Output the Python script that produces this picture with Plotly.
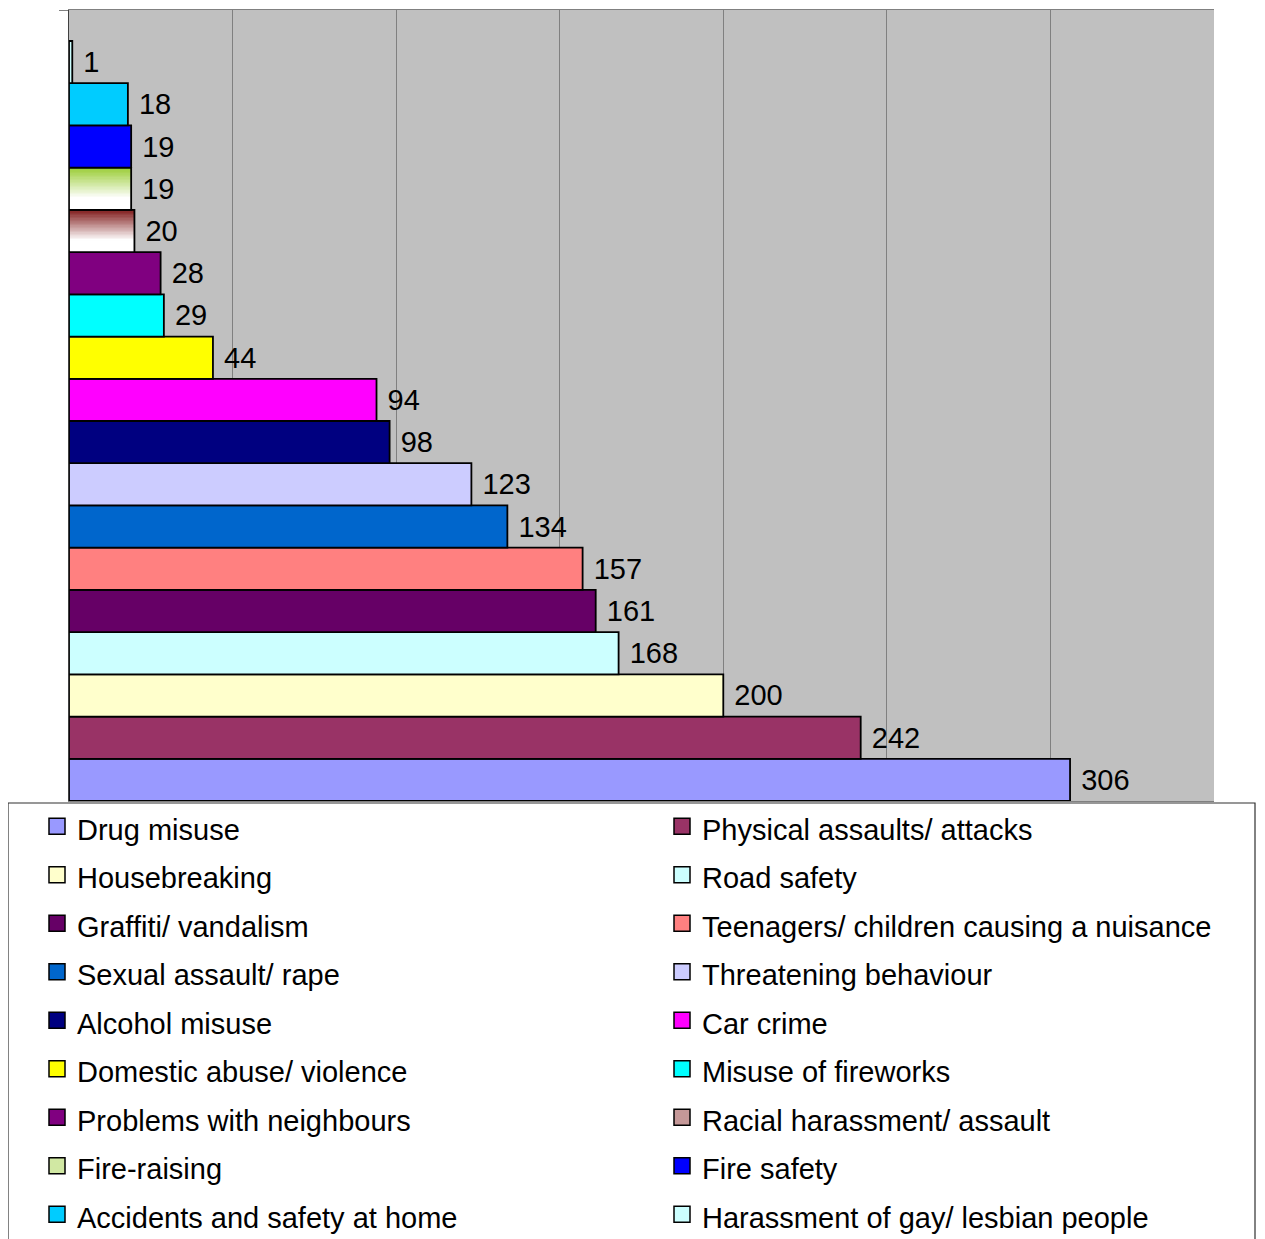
import plotly.graph_objects as go

categories = ["Drug misuse", "Physical assaults/ attacks", "Housebreaking", "Road safety",
              "Graffiti/ vandalism", "Teenagers/ children causing a nuisance", "Sexual assault/ rape",
              "Threatening behaviour", "Alcohol misuse", "Car crime", "Domestic abuse/ violence",
              "Misuse of fireworks", "Problems with neighbours", "Racial harassment/ assault",
              "Fire-raising", "Fire safety", "Accidents and safety at home",
              "Harassment of gay/ lesbian people"]
values = [306, 242, 200, 168, 161, 157, 134, 123, 98, 94, 44, 29, 28, 20, 19, 19, 18, 1]
colors = ["#9999FF", "#993366", "#FFFFCC", "#CCFFFF", "#660066", "#FF8080", "#0066CC",
          "#CCCCFF", "#000080", "#FF00FF", "#FFFF00", "#00FFFF", "#800080", "#7F1A1A",
          "#99CC33", "#0000FF", "#00CCFF", "#CCFFFF"]
gradient = [False] * 13 + [True, True] + [False] * 3

FONT = "Arial, Liberation Sans, sans-serif"
N_STRIPS = 30


def mix(hexc, t):
    hexc = hexc.lstrip("#")
    r, g, b = int(hexc[0:2], 16), int(hexc[2:4], 16), int(hexc[4:6], 16)
    r = round(r + (255 - r) * t)
    g = round(g + (255 - g) * t)
    b = round(b + (255 - b) * t)
    return f"rgb({r},{g},{b})"


def lab(name):
    return f'<span style="font-size:29px">{name}</span>'


LINE = dict(color="black", width=1.8)
fig = go.Figure()
for i, (cat, val, col, grad) in enumerate(zip(categories, values, colors, gradient)):
    leg = "legend" if i % 2 == 0 else "legend2"
    if grad:
        ys, cs = [], []
        for k in range(N_STRIPS):
            t = (k + 0.5) / N_STRIPS
            ys.append(i + 0.5 - t)
            cs.append(mix(col, min(1.0, t / 0.72)))
        fig.add_trace(go.Bar(x=[val] * N_STRIPS, y=ys, orientation="h", width=1.0 / N_STRIPS + 0.002,
                             marker=dict(color=cs, line=dict(width=0)), showlegend=False,
                             hoverinfo="skip"))
        bar_color = "rgba(0,0,0,0)"
        leg_color = mix(col, 0.55)
    else:
        bar_color = col
        leg_color = col
    fig.add_trace(go.Bar(x=[val], y=[i], orientation="h", width=1, name=cat,
                         marker=dict(color=bar_color, line=LINE),
                         text=[val], texttemplate=" %{x}", textposition="outside",
                         constraintext="none", cliponaxis=False,
                         textfont=dict(family=FONT, size=29, color="black"),
                         showlegend=False))
    # legend entry
    fig.add_trace(go.Scatter(x=[None], y=[None], mode="markers", name=lab(cat), legend=leg,
                             marker=dict(symbol="square", size=16, color=leg_color,
                                         line=dict(color="black", width=1.5))))

# page body has an 8px margin: figure coordinates = screen coordinates - 8
OFF = 8
W, H = 1265 - OFF, 1239 - OFF
plot_l, plot_r, plot_t, plot_b = 69 - OFF, 1214 - OFF, 10 - OFF, 801 - OFF
pw, ph = plot_r - plot_l, plot_b - plot_t
slot = (801 - 41) / 18.0
y_top = 17.5 + (41 - 10) / slot


def px(xf):
    return (xf - plot_l) / pw


def py(yf):
    return (plot_b - yf) / ph


leg_common = dict(orientation="v", xanchor="left", yanchor="top", traceorder="normal",
                  font=dict(family=FONT, size=35, color="black"),
                  bgcolor="rgba(0,0,0,0)", borderwidth=0, maxheight=1000)

fig.update_layout(
    width=W, height=H,
    margin=dict(l=plot_l, r=W - plot_r, t=plot_t, b=H - plot_b, pad=0, autoexpand=False),
    barmode="overlay",
    plot_bgcolor="#C0C0C0",
    paper_bgcolor="white",
    font=dict(family=FONT, size=29, color="black"),
    xaxis=dict(range=[0, 350], dtick=50, tick0=0, showgrid=True, gridcolor="#808080", gridwidth=1.3,
               showticklabels=False, ticks="", showline=True, mirror=True, linecolor="#808080",
               linewidth=1, zeroline=False, fixedrange=True),
    yaxis=dict(range=[-0.5, y_top], showgrid=False, zeroline=False, showticklabels=False,
               tickvals=[y_top], ticks="outside", ticklen=9, tickcolor="#808080",
               showline=True, linecolor="#404040", linewidth=1, fixedrange=True),
    showlegend=True,
    legend=dict(x=px(77 - OFF - 40), y=py(831 - OFF - 34), **leg_common),
    legend2=dict(x=px(702 - OFF - 40), y=py(831 - OFF - 34), **leg_common),
    shapes=[dict(type="rect", xref="paper", yref="paper",
                 x0=px(8 - OFF), x1=px(1255 - OFF), y0=py(803 - OFF), y1=py(1236),
                 line=dict(color="#303030", width=1.2), fillcolor="white", layer="above")],
)

fig.write_html("out.html")
